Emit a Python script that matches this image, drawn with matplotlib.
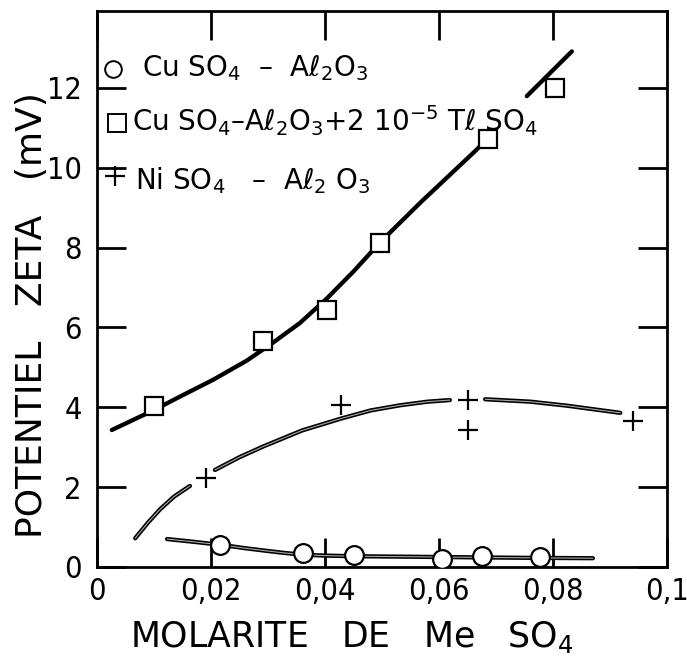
import matplotlib
matplotlib.use("Agg")
import matplotlib.pyplot as plt
import numpy as np

plt.rcParams['mathtext.fontset'] = 'dejavusans'
plt.rcParams['mathtext.default'] = 'regular'
plt.rcParams['font.family'] = ['DejaVu Sans']

# ---- data ----
circle_x = [0.0216, 0.0361, 0.0451, 0.0606, 0.0676, 0.0777]
circle_y = [0.55, 0.35, 0.30, 0.20, 0.28, 0.24]

square_x = [0.0100, 0.0292, 0.0403, 0.0496, 0.0686, 0.0804]
square_y = [4.04, 5.65, 6.44, 8.11, 10.72, 12.00]

plus_x = [0.0191, 0.0428, 0.0651, 0.0651, 0.0941]
plus_y = [2.22, 4.06, 4.17, 3.42, 3.66]

# fitted curves as drawn (NaN = gap in the drawn line)
circle_curve_x = [0.0123, 0.0170, 0.0220, 0.0260, 0.0300, 0.0330, 0.0360, 0.0400,
                  0.0450, 0.0600, 0.0750, 0.0870]
circle_curve_y = [0.70, 0.63, 0.55, 0.47, 0.40, 0.35, 0.31, 0.285,
                  0.27, 0.25, 0.23, 0.22]

square_curve_x = [0.0026, 0.0100, 0.0146, 0.0204, 0.0263, 0.0309, 0.0356, 0.0403,
                  0.0450, 0.0496, 0.0567, 0.0666, 0.0690, 0.0720, 0.0754, 0.0833]
square_curve_y = [3.43, 3.93, 4.27, 4.69, 5.17, 5.62, 6.11, 6.72,
                  7.40, 8.12, 9.12, 10.45, 10.80, np.nan, 11.79, 12.91]

plus_curve_x = [0.0067, 0.0090, 0.0111, 0.0135, 0.0163, 0.0185, 0.0207, 0.0250,
                0.0292, 0.0360, 0.0429, 0.0480, 0.0532, 0.0580, 0.0619, 0.0650,
                0.0681, 0.0760, 0.0824, 0.0918]
plus_curve_y = [0.72, 1.12, 1.45, 1.76, 2.03, np.nan, 2.43, 2.75,
                3.02, 3.42, 3.72, 3.92, 4.05, 4.14, 4.18, np.nan,
                4.20, 4.14, 4.04, 3.86]

x_ticks = [0, 0.02, 0.04, 0.06, 0.08, 0.1]
x_ticklabels = ["0", "0,02", "0,04", "0,06", "0,08", "0,1"]
y_ticks = [0, 2, 4, 6, 8, 10, 12]
y_ticklabels = ["0", "2", "4", "6", "8", "10", "12"]

legend_labels = [
    r"Cu SO$_4$  –  Aℓ$_2$O$_3$",
    r"Cu SO$_4$–Aℓ$_2$O$_3$+2 10$^{-5}$ Tℓ SO$_4$",
    r"Ni SO$_4$   –  Aℓ$_2$ O$_3$",
]

# ---- figure ----
fig = plt.figure(figsize=(6.87, 6.59), dpi=100)
ax = fig.add_axes([0.14119, 0.13961, 0.82969, 0.84416])
ax.set_xlim(0, 0.1)
ax.set_ylim(0, 13.93)

for s in ax.spines.values():
    s.set_linewidth(2.0)

# curves
def curve(x, y, core):
    ax.plot(x, y, color='black', lw=3.1, solid_capstyle='round',
            solid_joinstyle='round', zorder=2)
    if core:
        ax.plot(x, y, color='#a8a8a8', lw=0.8, solid_capstyle='round',
                solid_joinstyle='round', zorder=2.1)

curve(circle_curve_x, circle_curve_y, True)
curve(square_curve_x, square_curve_y, False)
curve(plus_curve_x, plus_curve_y, True)

ax.plot(circle_x, circle_y, linestyle='none', marker='o', ms=13.5, mfc='white',
        mec='black', mew=1.6, zorder=3)
ax.plot(square_x, square_y, linestyle='none', marker='s', ms=13, mfc='white',
        mec='black', mew=1.6, zorder=3)
ax.plot(plus_x, plus_y, linestyle='none', marker='+', ms=14, mec='black',
        mew=1.6, zorder=3)

# ticks
ax.set_xticks(x_ticks)
ax.set_xticklabels(x_ticklabels)
ax.set_yticks(y_ticks)
ax.set_yticklabels(y_ticklabels)
ax.tick_params(axis='both', direction='in', length=21, width=2.0,
               top=True, right=True)
ax.tick_params(axis='x', pad=7)
ax.tick_params(axis='y', pad=11)
for lab in ax.get_xticklabels() + ax.get_yticklabels():
    lab.set_fontfamily(['DejaVu Sans'])
    lab.set_fontstretch('condensed')
    lab.set_fontsize(22)

# axis labels
ax.set_xlabel(r"MOLARITE   DE   Me   SO$_4$", fontsize=25, va='top')
ax.xaxis.set_label_coords(0.447, -0.094)
ax.set_ylabel("POTENTIEL   ZETA   (mV)", fontsize=26, va='center')
ax.yaxis.set_label_coords(-0.114, 0.453)

# legend (manual, as in the figure)
tr = ax.transAxes
ax.plot([0.0286], [0.896], transform=tr, marker='o', ms=12, mfc='white',
        mec='black', mew=1.4, clip_on=False, zorder=4)
ax.plot([0.0345], [0.798], transform=tr, marker='s', ms=13, mfc='white',
        mec='black', mew=1.4, clip_on=False, zorder=4)
ax.plot([0.0316], [0.702], transform=tr, marker='+', ms=14, mec='black',
        mew=1.6, clip_on=False, zorder=4)
ax.text(0.0782, 0.883, legend_labels[0], transform=tr, fontsize=20,
        va='baseline', ha='left', zorder=5)
ax.text(0.0607, 0.7825, legend_labels[1], transform=tr, fontsize=20,
        va='baseline', ha='left', zorder=5)
ax.text(0.0667, 0.679, legend_labels[2], transform=tr, fontsize=20,
        va='baseline', ha='left', zorder=5)

fig.savefig("out.png", dpi=100)
